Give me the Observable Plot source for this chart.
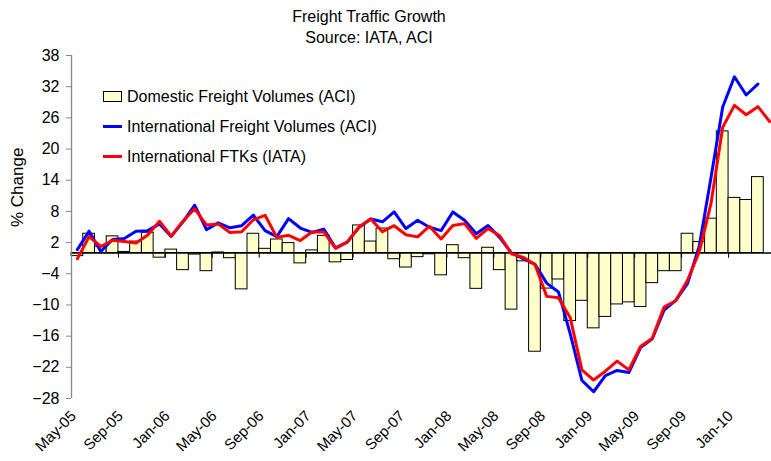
<!DOCTYPE html>
<html><head><meta charset="utf-8">
<script src="https://cdn.jsdelivr.net/npm/d3@7"></script>
<script src="https://cdn.jsdelivr.net/npm/@observablehq/plot@0.6"></script>
<style>
html,body{margin:0;padding:0;background:#fff;overflow:hidden}
#wrap{position:relative;width:771px;height:461px;font-family:"Liberation Sans",Arial,sans-serif;color:#000}
#wrap svg{position:absolute;left:0;top:0}
.title{position:absolute;left:0;width:738px;text-align:center;font-size:16px;line-height:21px;white-space:nowrap}
.lg{position:absolute;font-size:16px;line-height:20px;white-space:nowrap}
.sw{position:absolute;box-sizing:border-box}
</style></head>
<body>
<div id="wrap">
  <div class="title" style="top:6px">Freight Traffic Growth</div>
  <div class="title" style="top:27px">Source: IATA, ACI</div>
</div>
<script>
const months = ["May-05","Jun-05","Jul-05","Aug-05","Sep-05","Oct-05","Nov-05","Dec-05",
  "Jan-06","Feb-06","Mar-06","Apr-06","May-06","Jun-06","Jul-06","Aug-06","Sep-06","Oct-06","Nov-06","Dec-06",
  "Jan-07","Feb-07","Mar-07","Apr-07","May-07","Jun-07","Jul-07","Aug-07","Sep-07","Oct-07","Nov-07","Dec-07",
  "Jan-08","Feb-08","Mar-08","Apr-08","May-08","Jun-08","Jul-08","Aug-08","Sep-08","Oct-08","Nov-08","Dec-08",
  "Jan-09","Feb-09","Mar-09","Apr-09","May-09","Jun-09","Jul-09","Aug-09","Sep-09","Oct-09","Nov-09","Dec-09",
  "Jan-10","Feb-10","Mar-10","Apr-10"];

const domesticVolumes = [-0.6,3.7,1.2,3.2,0.2,2.2,3.9,-0.9,
  0.65,-3.3,-0.3,-3.5,0.1,-1.0,-7.0,3.7,0.8,2.6,1.9,-2.0,
  0.5,3.3,-1.8,-1.35,5.3,2.2,4.7,-1.2,-2.8,-0.8,-0.25,-4.3,
  1.5,-1.0,-6.9,1.0,-3.3,-10.9,-1.6,-19.0,-6.85,-5.1,-13.1,-9.2,
  -14.5,-12.3,-9.9,-9.5,-10.4,-5.8,-3.5,-3.5,3.7,2.1,6.6,23.4,
  10.6,10.2,14.6];

const intlVolumes = [0.65,4.2,0.3,2.6,2.8,4.2,4.3,5.6,
  3.2,6.0,9.2,4.5,5.8,4.85,5.25,7.3,4.3,3.15,6.6,4.8,
  3.95,4.6,1.0,2.1,4.9,6.55,6.0,7.9,4.7,6.3,4.95,4.3,
  7.9,6.3,3.7,5.3,2.95,0.0,-1.1,-2.2,-5.8,-7.5,-15.5,-24.5,
  -26.7,-23.6,-22.6,-23.0,-18.2,-16.5,-11.0,-9.1,-5.9,1.3,14.5,28.1,
  33.9,30.4,32.5];

const intlFTKs = [-1.1,3.15,1.25,2.45,2.2,1.9,3.45,6.1,
  3.25,6.1,8.5,5.4,5.6,3.95,4.1,6.4,7.25,3.0,3.4,2.4,
  4.05,4.05,0.9,2.1,5.0,6.55,4.1,5.25,3.5,3.1,5.15,2.7,
  5.3,5.65,2.8,4.7,3.3,-0.15,-0.85,-2.2,-8.35,-8.6,-12.4,-22.5,
  -24.45,-22.75,-20.8,-22.5,-18.0,-16.4,-10.4,-9.2,-5.25,0.2,9.5,24.2,
  28.4,26.6,28.15,25.3];

const xTickLabels = ["May-05","Sep-05","Jan-06","May-06","Sep-06","Jan-07","May-07",
  "Sep-07","Jan-08","May-08","Sep-08","Jan-09","May-09","Sep-09","Jan-10"];
const yTicks = [38,32,26,20,14,8,2,-4,-10,-16,-22,-28];

const seriesNames = ["Domestic Freight Volumes (ACI)","International Freight Volumes (ACI)","International FTKs (IATA)"];
const seriesColors = ["#ffffcc","#0000ff","#ff0000"];

const rows = arr => arr.map((v,i)=>({month: months[i], value: v}));

const xRange = [71, 775];
const bw = (xRange[1]-xRange[0]) / months.length;
const font = "'Liberation Sans', Arial, sans-serif";

const chart = Plot.plot({
  width: 771, height: 461,
  marginTop: 55, marginBottom: 63, marginLeft: 71, marginRight: 0,
  style: {fontFamily: font, fontSize: "15px", background: "transparent", color: "#000", overflow: "hidden"},
  x: {type: "band", domain: months, range: xRange, padding: 0, label: null},
  y: {type: "linear", domain: [yTicks[yTicks.length-1], yTicks[0]], label: null},
  marks: [
    Plot.barY(rows(domesticVolumes), {x: "month", y: "value", fill: seriesColors[0], stroke: "#000", strokeWidth: 1, inset: 0}),
    Plot.ruleY([0], {stroke: "#000", strokeWidth: 1.3}),
    Plot.ruleX(xTickLabels, {x: d => d, y1: 0, y2: -1, dx: -bw/2, stroke: "#000"}),
    Plot.ruleX([months[0]], {dx: -bw/2, stroke: "#888", strokeWidth: 1.3}),
    Plot.axisY({ticks: yTicks, tickSize: 5, tickPadding: 7, stroke: "#888", label: null, fontSize: 16}),
    Plot.axisX({ticks: xTickLabels, tickSize: 0, tickRotate: -45, tickPadding: 15, dx: -bw/2 + 2, label: null, fontSize: 15}),
    Plot.line(rows(intlVolumes), {x: "month", y: "value", stroke: seriesColors[1], strokeWidth: 3}),
    Plot.line(rows(intlFTKs), {x: "month", y: "value", stroke: seriesColors[2], strokeWidth: 3}),
    Plot.text(["% Change"], {frameAnchor: "left", dx: -54, rotate: -90, fontSize: 17})
  ]
});
const wrap = document.getElementById("wrap");
wrap.insertBefore(chart, wrap.firstChild);

// legend
const lgTop = [96.7, 126.7, 156.7];
seriesNames.forEach((name, i) => {
  const sw = document.createElement("div");
  sw.className = "sw";
  if (i === 0) {
    Object.assign(sw.style, {left: "103px", top: (lgTop[i]-5.5)+"px", width: "19px", height: "11px", background: seriesColors[i], border: "1px solid #000"});
  } else {
    Object.assign(sw.style, {left: "103px", top: (lgTop[i]-1.5)+"px", width: "19px", height: "3px", background: seriesColors[i]});
  }
  wrap.appendChild(sw);
  const t = document.createElement("div");
  t.className = "lg";
  t.textContent = name;
  Object.assign(t.style, {left: "127px", top: (lgTop[i]-10)+"px"});
  wrap.appendChild(t);
});
</script>
</body></html>
